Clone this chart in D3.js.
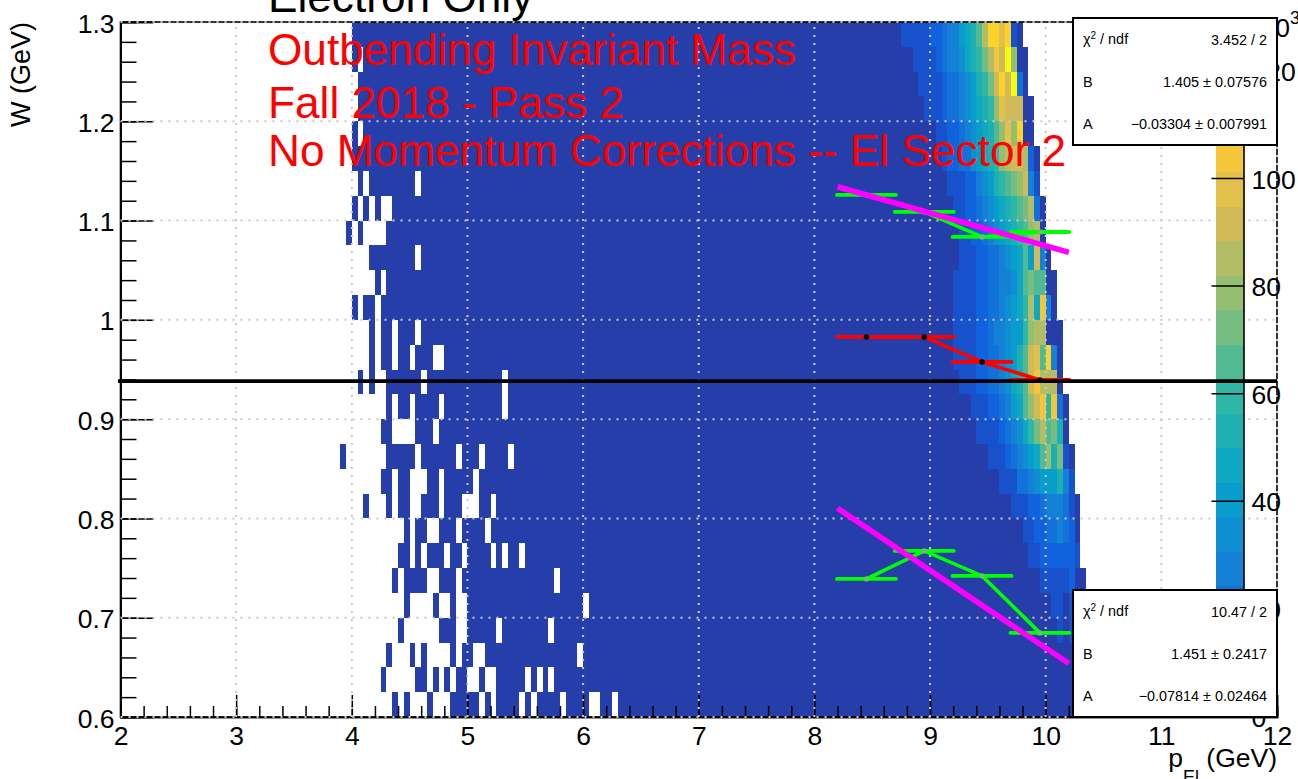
<!DOCTYPE html>
<html>
<head>
<meta charset="utf-8">
<style>
  html, body { margin: 0; padding: 0; background: #fff; overflow: hidden; }
  text { font-family: "Liberation Sans", Arial, sans-serif; }
</style>
<script src="https://d3js.org/d3.v7.min.js"></script>
</head>
<body>
<div id="chart"></div>
<script>
// bird palette stops
var birdRed   = [0.2082, 0.0592, 0.0780, 0.0232, 0.1802, 0.5301, 0.8186, 0.9956, 0.9764];
var birdGreen = [0.1664, 0.3599, 0.5041, 0.6419, 0.7178, 0.7492, 0.7328, 0.7862, 0.9832];
var birdBlue  = [0.5293, 0.8684, 0.8385, 0.7914, 0.6425, 0.4662, 0.3499, 0.1968, 0.0539];

// histogram, one entry per W row from the top (1.3) down, bins are 0.05 GeV wide
var rowFirst = [4.0, 4.0, 4.05, 4.05, 4.0, 4.0, 4.05, 4.0, 3.95, 4.15, 4.2, 4.0, 4.15, 4.15,
  4.05, 4.3, 4.25, 3.9, 4.25, 4.1, 4.45, 4.4, 4.35, 4.45, 4.4, 4.3, 4.25, 4.35];

// empty stretches of each row [from, to] in GeV
var rowGaps = [
  [],
  [[4.05, 4.1]],
  [],
  [],
  [[4.05, 4.1]],
  [],
  [[4.1, 4.15], [4.55, 4.6]],
  [[4.05, 4.1], [4.15, 4.2], [4.25, 4.35]],
  [[4.0, 4.05], [4.1, 4.3]],
  [[4.55, 4.6]],
  [[4.25, 4.3]],
  [[4.05, 4.1], [4.2, 4.25]],
  [[4.2, 4.25], [4.35, 4.4], [4.55, 4.6]],
  [[4.2, 4.25], [4.35, 4.4], [4.5, 4.55], [4.7, 4.8]],
  [[4.1, 4.15], [4.2, 4.3], [4.6, 4.65], [5.3, 5.35]],
  [[4.35, 4.4], [4.5, 4.55], [4.75, 4.8], [5.3, 5.35]],
  [[4.35, 4.55], [4.7, 4.75]],
  [[3.95, 4.3], [4.55, 4.6], [4.9, 4.95], [5.1, 5.15], [5.35, 5.4]],
  [[4.35, 4.4], [4.5, 4.65], [4.75, 4.8], [5.05, 5.1]],
  [[4.15, 4.3], [4.35, 4.4], [4.5, 4.6], [4.75, 4.8], [4.95, 5.1], [5.2, 5.25]],
  [[4.5, 4.55], [4.65, 4.75], [4.9, 4.95], [5.15, 5.2]],
  [[4.5, 4.55], [4.6, 4.65], [4.8, 4.85], [4.95, 5.0], [5.2, 5.25], [5.3, 5.35], [5.45, 5.5]],
  [[4.4, 4.45], [4.65, 4.75], [4.9, 4.95], [5.75, 5.8]],
  [[4.5, 4.7], [4.75, 4.85], [4.9, 5.0], [6.0, 6.05]],
  [[4.45, 4.75], [4.9, 5.0], [5.25, 5.3], [5.7, 5.75]],
  [[4.35, 4.5], [4.55, 4.6], [4.65, 4.85], [4.9, 4.95], [5.05, 5.15], [5.95, 6.0]],
  [[4.3, 4.55], [4.65, 4.7], [4.75, 4.8], [4.85, 4.9], [5.0, 5.1], [5.15, 5.25], [5.5, 5.55], [5.6, 5.65], [5.7, 5.75]],
  [[4.4, 4.45], [4.5, 4.65], [4.7, 4.85], [5.1, 5.15], [5.2, 5.25], [5.45, 5.5], [5.55, 5.6], [5.8, 5.85], [6.05, 6.15], [6.25, 6.3]]
];

// where the populated ridge starts in each row, and its counts (x10^3) bin by bin
var ridgeFirst = [8.75, 8.85, 8.9, 8.95, 9.05, 9.1, 9.15, 9.2, 9.25, 9.25, 9.2, 9.2, 9.2, 9.2,
  9.25, 9.35, 9.4, 9.5, 9.6, 9.7, 9.8, 9.85, 9.95, 10.05, 10.1, 10.4, 10.4, 10.4];
var ridgeCounts = [
  [8, 8, 8, 8, 8, 15, 15, 21, 27, 27, 40, 47, 53, 66, 85, 110, 110, 98, 110, 8, 2],
  [8, 8, 8, 8, 15, 21, 27, 27, 34, 47, 53, 59, 72, 85, 104, 91, 123, 78, 2, 2],
  [8, 8, 8, 8, 15, 21, 21, 27, 34, 40, 53, 59, 72, 91, 110, 91, 123, 21, 2],
  [8, 8, 8, 15, 21, 21, 27, 34, 40, 47, 53, 59, 78, 98, 91, 91, 91, 2, 2],
  [8, 8, 15, 15, 21, 27, 34, 40, 47, 53, 66, 78, 98, 78, 110, 2, 2],
  [8, 15, 15, 21, 21, 34, 40, 47, 53, 59, 78, 85, 91, 91, 85, 15, 2],
  [8, 8, 8, 15, 15, 27, 34, 40, 53, 59, 66, 72, 78, 91, 27, 8],
  [8, 8, 15, 15, 21, 27, 34, 40, 47, 53, 59, 66, 72, 85, 21, 2],
  [8, 8, 15, 15, 21, 27, 34, 40, 47, 53, 59, 66, 78, 85, 2],
  [8, 8, 8, 15, 15, 21, 21, 27, 34, 40, 47, 66, 40, 91, 27, 2],
  [8, 8, 8, 8, 15, 15, 21, 21, 27, 27, 34, 47, 66, 72, 66, 66, 2, 2],
  [8, 8, 8, 8, 15, 15, 21, 21, 27, 34, 40, 47, 59, 85, 47, 104, 27, 2],
  [8, 8, 8, 8, 15, 15, 21, 27, 27, 34, 40, 40, 59, 78, 85, 85, 2, 2, 2],
  [8, 8, 8, 8, 15, 15, 21, 21, 27, 34, 40, 53, 66, 91, 98, 66, 110, 27, 2],
  [8, 8, 8, 15, 15, 21, 21, 27, 34, 47, 53, 66, 91, 104, 85, 85, 85, 2],
  [8, 8, 8, 15, 15, 21, 27, 40, 47, 66, 78, 91, 104, 59, 104, 21, 2],
  [8, 8, 8, 8, 15, 21, 27, 34, 47, 59, 72, 85, 66, 72, 53, 2],
  [8, 8, 8, 15, 21, 27, 34, 40, 47, 66, 78, 53, 72, 8, 2],
  [8, 8, 8, 21, 21, 27, 34, 40, 40, 40, 53, 27, 8],
  [8, 8, 8, 15, 15, 21, 27, 27, 27, 21, 8, 2],
  [8, 8, 15, 15, 21, 21, 27, 21, 15, 2],
  [8, 8, 15, 15, 15, 15, 15, 15, 8],
  [8, 8, 8, 8, 8, 15, 2, 2],
  [8, 8, 2, 8, 8, 2, 2, 2, 2],
  [8, 2, 8, 8, 2, 2, 2],
  [],
  [],
  []
];

// slice means on top of the histogram
var sliceP = [8.45, 8.95, 9.45, 9.95];
var upperW = [1.1258, 1.1087, 1.0835, 1.0885];
var peakW = [0.9828, 0.9828, 0.9576, 0.9395];
var lowerW = [0.7391, 0.7673, 0.7421, 0.6847];
var sliceHalfWidth = 0.255;

// fit results, W = A p + B
var fitRangeP = [8.2, 10.2];
var upperFit = { A: -0.03304, B: 1.405 };
var lowerFit = { A: -0.07814, B: 1.451 };
var protonMass = 0.9383;

var titleLines = ["Outbending Invariant Mass", "Fall 2018 - Pass 2", "No Momentum Corrections -- El Sector 2"];
var upperStats = ["3.452 / 2", "1.405 ± 0.07576", "−0.03304 ± 0.007991"];
var lowerStats = ["10.47 / 2", "1.451 ± 0.2417", "−0.07814 ± 0.02464"];

var pMajor = [2, 3, 4, 5, 6, 7, 8, 9, 10, 11, 12];
var wMajor = [0.6, 0.7, 0.8, 0.9, 1.0, 1.1, 1.2, 1.3];
var zMajor = [0, 20, 40, 60, 80, 100, 120];

//svg limits
var svgWidth = 1298;
var svgHeight = 779;

var plot = { left: 120.5, right: 1277, top: 22, bottom: 717 };
var binWidth = 0.05;
var rowHeight = 0.025;
var baseCount = 2;

var svg = d3.select("#chart")
  .append("svg")
  .attr("width", svgWidth)
  .attr("height", svgHeight)
  .style("display", "block");

var xScale = d3.scaleLinear().domain([2, 12]).range([plot.left, plot.right]);
var yScale = d3.scaleLinear().domain([0.6, 1.3]).range([plot.bottom, plot.top]);
var zScale = d3.scaleLinear().domain([0, 129]).range([716, 22]);

// 20 colour bands picked from the palette
var stopScale = d3.scaleLinear()
  .domain(birdRed.map(function(d, i) { return i / 8; }))
  .range(birdRed.map(function(d, i) {
    return d3.rgb(d * 255, birdGreen[i] * 255, birdBlue[i] * 255);
  }));
var bandColors = d3.range(20).map(function(i) { return stopScale((i + 1) / 20); });
var colorScale = d3.scaleQuantize().domain([-1.5, 126.7]).range(bandColors);

// flatten the rows to cells
var cells = [];
rowFirst.forEach(function(first, r) {
  var startBin = Math.round(first / binWidth);
  var ridgeBin = Math.round(ridgeFirst[r] / binWidth);
  var endBin = ridgeBin + ridgeCounts[r].length;
  for (var b = startBin; b < endBin; b++) {
    var inGap = rowGaps[r].some(function(g) {
      return b >= Math.round(g[0] / binWidth) && b < Math.round(g[1] / binWidth);
    });
    if (inGap) continue;
    cells.push({
      p: b * binWidth,
      w: 1.3 - r * rowHeight,
      count: b >= ridgeBin ? ridgeCounts[r][b - ridgeBin] : baseCount
    });
  }
});

svg.append("g")
  .selectAll("rect")
  .data(cells)
  .enter()
  .append("rect")
  .attr("x", d => xScale(d.p))
  .attr("y", d => yScale(d.w))
  .attr("width", d => xScale(d.p + binWidth) - xScale(d.p))
  .attr("height", d => yScale(d.w - rowHeight) - yScale(d.w))
  .attr("fill", d => colorScale(d.count))
  .attr("shape-rendering", "crispEdges");

// frame
svg.append("rect")
  .attr("x", plot.left)
  .attr("y", plot.top)
  .attr("width", plot.right - plot.left)
  .attr("height", plot.bottom - plot.top)
  .attr("fill", "none")
  .attr("stroke", "#000")
  .attr("stroke-width", 1.6);

// minor ticks, then major ticks with labels
function styleAxis(g, width) {
  g.selectAll("path").attr("stroke", "#000").attr("stroke-width", 1.6);
  g.selectAll("line").attr("stroke", "#000").attr("stroke-width", width);
  g.selectAll("text")
    .attr("fill", "#000")
    .style("font-size", "26.5px")
    .style("font-family", "'Liberation Sans', Arial, sans-serif");
}

var xMinorTicks = d3.range(10, 61).map(function(d) { return d / 5; });
var yMinorTicks = d3.range(30, 66).map(function(d) { return d / 50; });

var xMinor = svg.append("g")
  .attr("transform", `translate(0, ${plot.bottom})`)
  .call(d3.axisBottom(xScale).tickValues(xMinorTicks).tickSize(-11).tickFormat(""));
styleAxis(xMinor, 1.5);

var xMajor = svg.append("g")
  .attr("transform", `translate(0, ${plot.bottom})`)
  .call(d3.axisBottom(xScale).tickValues(pMajor).tickSize(-22).tickPadding(9).tickFormat(d3.format("d")));
styleAxis(xMajor, 1.5);

var yMinor = svg.append("g")
  .attr("transform", `translate(${plot.left}, 0)`)
  .call(d3.axisLeft(yScale).tickValues(yMinorTicks).tickSize(-16).tickFormat(""));
styleAxis(yMinor, 1.5);

var yMajor = svg.append("g")
  .attr("transform", `translate(${plot.left}, 0)`)
  .call(d3.axisLeft(yScale).tickValues(wMajor).tickSize(-33).tickPadding(6)
    .tickFormat(function(d) { return d === 1 ? "1" : d3.format(".1f")(d); }));
styleAxis(yMajor, 1.5);
yMajor.selectAll("text").attr("dy", "0.38em");

// dotted grid goes over the histogram
var gridGroup = svg.append("g")
  .attr("stroke", "#c9c9c9")
  .attr("stroke-width", 2)
  .attr("stroke-dasharray", "2 6");

gridGroup.selectAll(".gridX")
  .data(pMajor.slice(1))
  .enter()
  .append("line")
  .attr("x1", d => xScale(d))
  .attr("x2", d => xScale(d))
  .attr("y1", plot.bottom)
  .attr("y2", plot.top);

gridGroup.selectAll(".gridY")
  .data(wMajor)
  .enter()
  .append("line")
  .attr("x1", plot.left)
  .attr("x2", plot.right)
  .attr("y1", d => yScale(d))
  .attr("y2", d => yScale(d));

// colour bar
var barGroup = svg.append("g");
barGroup.selectAll("rect")
  .data(bandColors)
  .enter()
  .append("rect")
  .attr("x", 1216)
  .attr("width", 27.5)
  .attr("y", d => zScale(colorScale.invertExtent(d)[1]))
  .attr("height", d => zScale(Math.max(colorScale.invertExtent(d)[0], 0)) - zScale(colorScale.invertExtent(d)[1]))
  .attr("fill", d => d)
  .attr("shape-rendering", "crispEdges");

var zAxis = svg.append("g")
  .attr("transform", "translate(1243.5, 0)")
  .call(d3.axisRight(zScale).tickValues(zMajor).tickSize(-32).tickPadding(8).tickSizeOuter(0));
styleAxis(zAxis, 1.5);
zAxis.selectAll("text").attr("dy", "0.38em");

var zExponent = svg.append("text")
  .attr("x", 1261)
  .attr("y", 37)
  .attr("font-size", 26)
  .text("10");
zExponent.append("tspan")
  .attr("font-size", 18)
  .attr("dy", -13)
  .text("3");

// fit lines and slice points
function fitLine(fit) {
  return fitRangeP.map(function(p) { return { p: p, w: fit.A * p + fit.B }; });
}

var pwLine = d3.line().x(d => xScale(d.p)).y(d => yScale(d.w));

function drawSlices(values, color, markerColor) {
  var points = values.map(function(w, i) { return { p: sliceP[i], w: w }; });
  var g = svg.append("g");
  g.append("path")
    .attr("d", pwLine(points))
    .attr("fill", "none")
    .attr("stroke", color)
    .attr("stroke-width", 3.6);
  g.selectAll("line")
    .data(points)
    .enter()
    .append("line")
    .attr("x1", d => xScale(d.p - sliceHalfWidth))
    .attr("x2", d => xScale(d.p + sliceHalfWidth))
    .attr("y1", d => yScale(d.w))
    .attr("y2", d => yScale(d.w))
    .attr("stroke", color)
    .attr("stroke-width", 3.8)
    .attr("stroke-linecap", "round");
  g.selectAll("circle")
    .data(points)
    .enter()
    .append("circle")
    .attr("cx", d => xScale(d.p))
    .attr("cy", d => yScale(d.w))
    .attr("r", 2.7)
    .attr("fill", markerColor);
}

drawSlices(upperW, "#00ff00", "#66c266");
drawSlices(lowerW, "#00ff00", "#66c266");
drawSlices(peakW, "#ff0000", "#000");

[upperFit, lowerFit].forEach(function(fit) {
  svg.append("path")
    .attr("d", pwLine(fitLine(fit)))
    .attr("fill", "none")
    .attr("stroke", "#ff00ff")
    .attr("stroke-width", 5.5);
});

// proton mass line
svg.append("line")
  .attr("x1", 118)
  .attr("x2", plot.right)
  .attr("y1", yScale(protonMass))
  .attr("y2", yScale(protonMass))
  .attr("stroke", "#000")
  .attr("stroke-width", 3.6);

// titles
svg.append("text")
  .attr("x", 268)
  .attr("y", 12)
  .attr("font-size", 44.2)
  .attr("fill", "#000")
  .text("Electron Only");

var titleY = [65, 118, 166];
svg.selectAll(".redTitle")
  .data(titleLines)
  .enter()
  .append("text")
  .attr("class", "redTitle")
  .attr("x", 268)
  .attr("y", (d, i) => titleY[i])
  .attr("font-size", 44.2)
  .attr("fill", "#ff0000")
  .text(d => d);

// axis titles
svg.append("text")
  .attr("transform", "translate(30, 22) rotate(-90)")
  .attr("text-anchor", "end")
  .attr("font-size", 27)
  .text("W (GeV)");

var xTitle = svg.append("text")
  .attr("x", 1277)
  .attr("y", 767)
  .attr("text-anchor", "end")
  .attr("font-size", 26.5);
xTitle.append("tspan").text("p");
xTitle.append("tspan").attr("font-size", 18).attr("dy", 16).text("El");
xTitle.append("tspan").attr("dy", -16).text(" (GeV)");

// fit stat boxes
function drawStats(top, stats) {
  var g = svg.append("g").attr("transform", `translate(1073, ${top})`);
  g.append("rect")
    .attr("width", 204)
    .attr("height", 127)
    .attr("fill", "#fff")
    .attr("stroke", "#000")
    .attr("stroke-width", 2);
  var label = g.append("text").attr("x", 10).attr("y", 26).attr("font-size", 14.4);
  label.append("tspan").text("χ");
  label.append("tspan").attr("font-size", 10).attr("dy", -5).text("2");
  label.append("tspan").attr("dy", 5).text(" / ndf");
  g.append("text").attr("x", 10).attr("y", 69).attr("font-size", 14.4).text("B");
  g.append("text").attr("x", 10).attr("y", 111).attr("font-size", 14.4).text("A");
  var rowY = [27, 69, 111];
  g.selectAll(".stat")
    .data(stats)
    .enter()
    .append("text")
    .attr("class", "stat")
    .attr("x", 194)
    .attr("y", (d, i) => rowY[i])
    .attr("text-anchor", "end")
    .attr("font-size", 14.4)
    .text(d => d);
}

drawStats(18, upperStats);
drawStats(590, lowerStats);
</script>
</body>
</html>
